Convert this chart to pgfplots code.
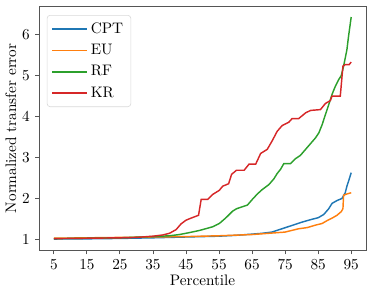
\documentclass[border=0pt]{standalone}
\usepackage{pgfplots}
\pgfplotsset{compat=1.18}
\definecolor{tabblue}{HTML}{1F77B4}
\definecolor{taborange}{HTML}{FF7F0E}
\definecolor{tabgreen}{HTML}{2CA02C}
\definecolor{tabred}{HTML}{D62728}
\definecolor{framec}{HTML}{555555}
\begin{document}
\begin{tikzpicture}
\begin{axis}[
  name=ax,
  scale only axis,
  width=214bp, height=160bp,
  xmin=0.5, xmax=99.5, ymin=0.73, ymax=6.7,
  xtick={5,15,25,35,45,55,65,75,85,95},
  ytick={1,2,3,4,5,6},
  tick align=outside,
  tick pos=left,
  major tick length=2.5bp,
  axis line style={framec, line width=0.6pt},
  major tick style={framec, line width=0.6pt},
  xlabel={Percentile},
  ylabel={Normalized transfer error},
  xlabel style={yshift=3bp},
  ylabel style={yshift=-3bp},
  legend style={at={(0.024,0.963)}, anchor=north west, draw=black!15, rounded corners=2pt, nodes={inner ysep=2.8bp}},
  legend cell align=left,
  legend image code/.code={\draw[#1] (0cm,0cm) -- (0.8cm,0cm);},
  cycle list={{tabblue,line width=0.95pt},{taborange,line width=0.95pt},{tabgreen,line width=0.95pt},{tabred,line width=0.95pt}},
]
\addplot+[no marks] coordinates {(5,1.01)(15,1.015)(25,1.025)(35,1.04)(45,1.06)(55,1.08)(60,1.10)(65,1.13)(68,1.15)(71,1.18)(74,1.26)(77,1.34)(80,1.42)(83,1.49)(85,1.53)(86.7,1.61)(88.2,1.75)(89.2,1.88)(90.7,1.95)(92.2,2.0)(93.2,2.14)(93.7,2.30)(94.2,2.42)(95,2.63)};
\addlegendentry{CPT}
\addplot+[no marks] coordinates {(5,1.03)(15,1.04)(25,1.05)(35,1.06)(45,1.07)(55,1.09)(65,1.12)(70,1.15)(75,1.18)(77,1.22)(79,1.26)(81.7,1.29)(84.2,1.35)(86.2,1.39)(87.7,1.46)(89.2,1.52)(90.7,1.59)(92,1.68)(92.5,1.75)(92.7,2.08)(93.7,2.11)(95,2.14)};
\addlegendentry{EU}
\addplot+[no marks] coordinates {(5,1.02)(15,1.03)(25,1.04)(35,1.07)(40,1.09)(43,1.12)(45.6,1.16)(49.1,1.22)(53.1,1.31)(55.1,1.39)(57.1,1.53)(59.1,1.69)(60.3,1.75)(63.6,1.84)(65.1,1.98)(66.6,2.11)(68.1,2.22)(70.1,2.34)(71.6,2.48)(72.6,2.61)(73.6,2.71)(74.6,2.85)(76.6,2.85)(78.1,2.97)(79.6,3.05)(81.2,3.20)(82.7,3.34)(84.2,3.48)(85.2,3.60)(86.2,3.80)(87.2,4.05)(88.2,4.29)(89.2,4.54)(90.2,4.74)(91.2,4.90)(92,5.0)(92.7,5.23)(93.7,5.63)(94.2,5.96)(95,6.43)};
\addlegendentry{RF}
\addplot+[no marks] coordinates {(5,1.02)(15,1.03)(25,1.04)(30,1.05)(35,1.08)(38,1.11)(40,1.15)(42,1.24)(43.5,1.38)(45,1.47)(46.5,1.52)(48.8,1.59)(49.6,1.98)(51.6,1.98)(53.1,2.10)(55.1,2.20)(56.1,2.30)(57.9,2.36)(58.8,2.59)(60.3,2.69)(62.6,2.69)(64.1,2.84)(66.1,2.84)(67.6,3.10)(69.6,3.20)(71.1,3.41)(72.6,3.64)(74.1,3.78)(76.1,3.86)(77.1,3.95)(79.1,3.95)(81.2,4.09)(82.7,4.15)(85.7,4.17)(87.2,4.32)(88.7,4.39)(89.2,4.50)(91.7,4.50)(92.5,5.23)(93.2,5.27)(94.4,5.27)(95,5.33)};
\addlegendentry{KR}
\end{axis}
\pgfresetboundingbox
\useasboundingbox ([shift={(-25.5bp,-30.8bp)}]ax.south west) rectangle ([shift={(5.2bp,3.9bp)}]ax.north east);
\end{tikzpicture}
\end{document}
